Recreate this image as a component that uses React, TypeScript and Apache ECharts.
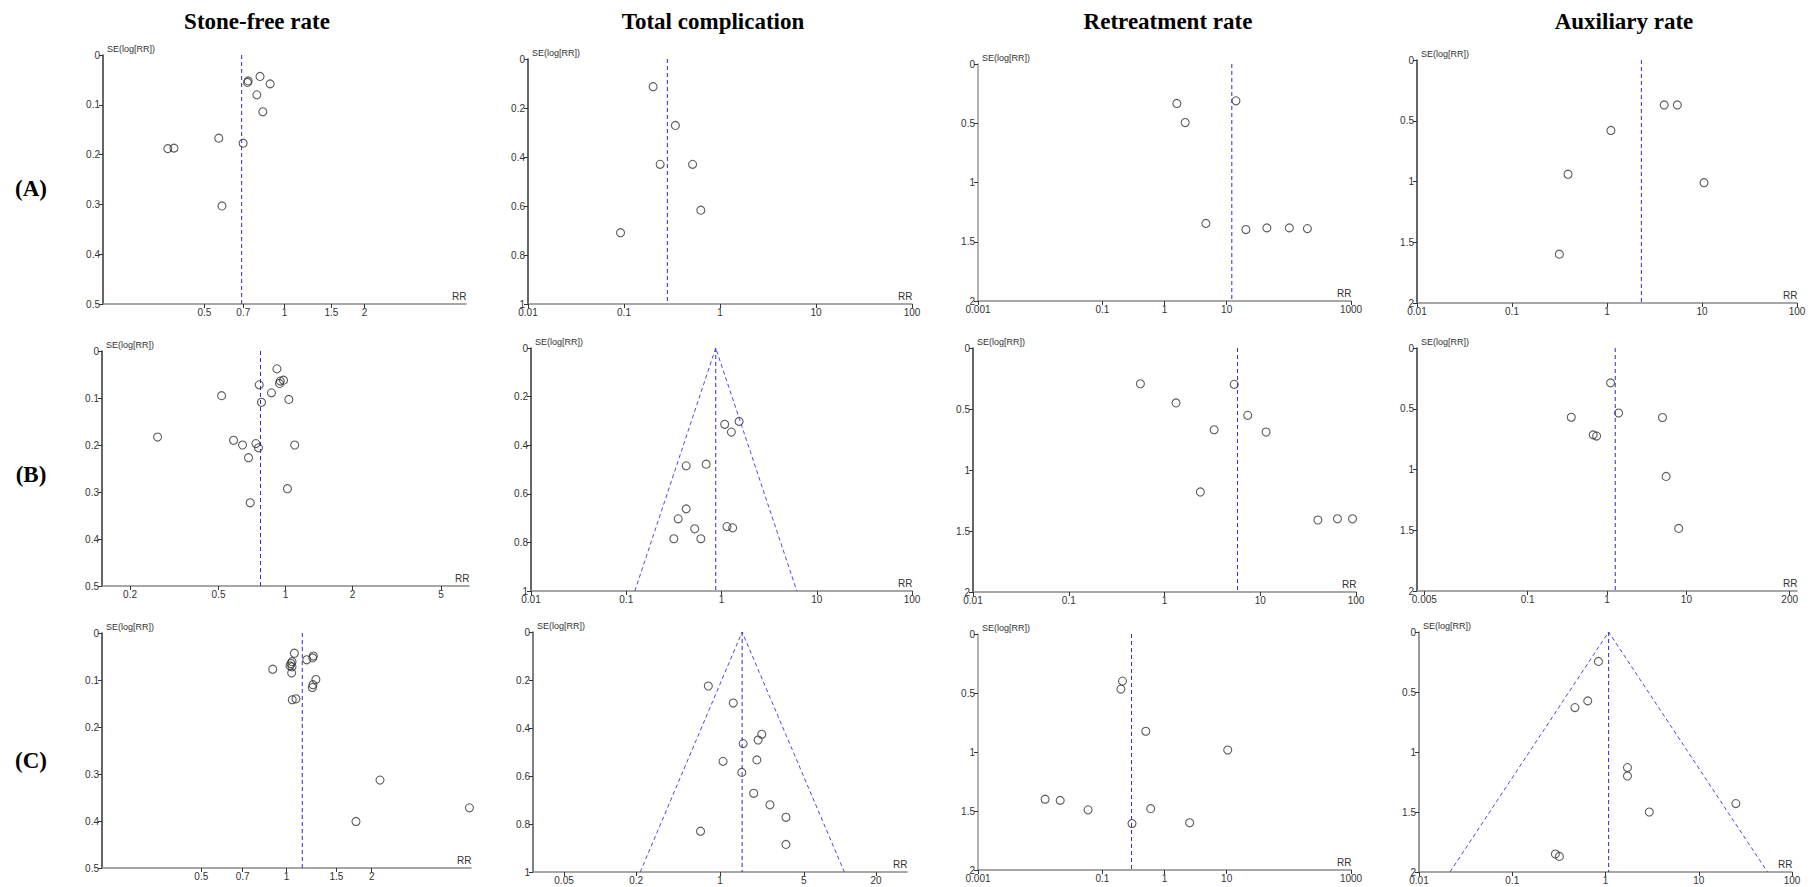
import React, { useEffect, useRef } from "react";
import * as echarts from "echarts";

const colTitles = ["Stone-free rate", "Total complication", "Retreatment rate", "Auxiliary rate"];
const rowLabels = ["(A)", "(B)", "(C)"];

// ---- Row A ----
const a1RR = [0.730, 0.726, 0.809, 0.883, 0.787, 0.829, 0.566, 0.699, 0.364, 0.384, 0.582];
const a1SE = [0.052, 0.055, 0.043, 0.058, 0.080, 0.114, 0.167, 0.177, 0.188, 0.187, 0.303];
const a1Pooled = 0.69;
const a1Ticks = [0.5, 0.7, 1, 1.5, 2];

const a2RR = [0.201, 0.343, 0.238, 0.518, 0.631, 0.092];
const a2SE = [0.113, 0.271, 0.430, 0.430, 0.617, 0.709];
const a2Pooled = 0.283;
const a2Ticks = [0.01, 0.1, 1, 10, 100];

const a3RR = [1.58, 2.15, 14.1, 4.63, 20.4, 44.3, 102, 199];
const a3SE = [0.333, 0.494, 0.311, 1.345, 1.397, 1.383, 1.383, 1.389];
const a3Pooled = 12.1;
const a3Ticks = [0.001, 0.1, 1, 10, 1000];

const a4RR = [4.0, 5.5, 1.1, 0.389, 10.5, 0.315];
const a4SE = [0.37, 0.37, 0.58, 0.94, 1.01, 1.598];
const a4Pooled = 2.3;
const a4Ticks = [0.01, 0.1, 1, 10, 100];

// ---- Row B ----
const b1RR = [0.915, 0.947, 0.98, 0.94, 0.762, 0.865, 0.516, 1.035, 0.78, 0.266, 0.584, 0.641, 0.736, 0.756, 1.10, 0.682, 1.02, 0.694];
const b1SE = [0.038, 0.064, 0.062, 0.069, 0.072, 0.089, 0.095, 0.103, 0.109, 0.183, 0.190, 0.200, 0.197, 0.206, 0.200, 0.227, 0.293, 0.323];
const b1Pooled = 0.772;
const b1Ticks = [0.2, 0.5, 1, 2, 5];

const b2RR = [1.08, 1.53, 1.27, 0.426, 0.69, 0.426, 0.351, 0.316, 0.607, 0.523, 1.14, 1.31];
const b2SE = [0.314, 0.302, 0.346, 0.485, 0.478, 0.662, 0.703, 0.785, 0.785, 0.744, 0.735, 0.74];
const b2Pooled = 0.87;
const b2Funnel = [0.123, 6.18];
const b2Ticks = [0.01, 0.1, 1, 10, 100];

const b3RR = [0.56, 1.32, 5.35, 7.4, 3.3, 11.5, 2.37, 40, 64, 92];
const b3SE = [0.293, 0.45, 0.298, 0.552, 0.67, 0.689, 1.18, 1.41, 1.40, 1.40];
const b3Pooled = 5.78;
const b3Ticks = [0.01, 0.1, 1, 10, 100];

const b4RR = [1.11, 0.355, 1.40, 0.67, 0.74, 5.0, 5.55, 8.0];
const b4SE = [0.287, 0.57, 0.535, 0.715, 0.725, 0.572, 1.057, 1.485];
const b4Pooled = 1.27;
const b4Ticks = [0.005, 0.1, 1, 10, 200];

// ---- Row C ----
const c1RR = [1.066, 1.244, 1.238, 1.179, 1.046, 1.037, 1.029, 1.046, 0.894, 1.043, 1.27, 1.24, 1.234, 1.048, 1.08, 2.14, 1.76, 4.43];
const c1SE = [0.043, 0.049, 0.053, 0.057, 0.061, 0.065, 0.070, 0.072, 0.077, 0.085, 0.099, 0.110, 0.116, 0.142, 0.140, 0.313, 0.401, 0.372];
const c1Pooled = 1.137;
const c1Ticks = [0.5, 0.7, 1, 1.5, 2];

const c2RR = [0.799, 1.29, 2.23, 2.08, 1.56, 1.06, 2.03, 1.52, 1.91, 2.61, 3.55, 3.55, 0.688];
const c2SE = [0.225, 0.296, 0.426, 0.45, 0.465, 0.539, 0.533, 0.585, 0.672, 0.72, 0.772, 0.885, 0.83];
const c2Pooled = 1.53;
const c2Funnel = [0.216, 10.9];
const c2Ticks = [0.05, 0.2, 1, 5, 20];

const c3RR = [0.211, 0.199, 0.5, 10.4, 0.012, 0.021, 0.059, 0.6, 0.30, 2.54];
const c3SE = [0.399, 0.467, 0.824, 0.983, 1.40, 1.41, 1.49, 1.48, 1.606, 1.60];
const c3Pooled = 0.295;
const c3Ticks = [0.001, 0.1, 1, 10, 1000];

const c4RR = [0.84, 0.645, 0.47, 1.72, 1.72, 2.95, 25, 0.29, 0.32];
const c4SE = [0.245, 0.574, 0.63, 1.13, 1.2, 1.5, 1.43, 1.85, 1.87];
const c4Pooled = 1.08;
const c4Funnel = [0.0215, 54.6];
const c4Ticks = [0.01, 0.1, 1, 10, 100];

type Panel = {
  rr: number[]; se: number[]; pooled: number; ticks: number[];
  seMax: number; seStep: number; funnel?: number[];
};

const panels: Panel[] = [
  { rr: a1RR, se: a1SE, pooled: a1Pooled, ticks: a1Ticks, seMax: 0.5, seStep: 0.1 },
  { rr: a2RR, se: a2SE, pooled: a2Pooled, ticks: a2Ticks, seMax: 1, seStep: 0.2 },
  { rr: a3RR, se: a3SE, pooled: a3Pooled, ticks: a3Ticks, seMax: 2, seStep: 0.5 },
  { rr: a4RR, se: a4SE, pooled: a4Pooled, ticks: a4Ticks, seMax: 2, seStep: 0.5 },
  { rr: b1RR, se: b1SE, pooled: b1Pooled, ticks: b1Ticks, seMax: 0.5, seStep: 0.1 },
  { rr: b2RR, se: b2SE, pooled: b2Pooled, ticks: b2Ticks, seMax: 1, seStep: 0.2, funnel: b2Funnel },
  { rr: b3RR, se: b3SE, pooled: b3Pooled, ticks: b3Ticks, seMax: 2, seStep: 0.5 },
  { rr: b4RR, se: b4SE, pooled: b4Pooled, ticks: b4Ticks, seMax: 2, seStep: 0.5 },
  { rr: c1RR, se: c1SE, pooled: c1Pooled, ticks: c1Ticks, seMax: 0.5, seStep: 0.1 },
  { rr: c2RR, se: c2SE, pooled: c2Pooled, ticks: c2Ticks, seMax: 1, seStep: 0.2, funnel: c2Funnel },
  { rr: c3RR, se: c3SE, pooled: c3Pooled, ticks: c3Ticks, seMax: 2, seStep: 0.5 },
  { rr: c4RR, se: c4SE, pooled: c4Pooled, ticks: c4Ticks, seMax: 2, seStep: 0.5, funnel: c4Funnel },
];

// layout: [left, right, top, bottom, log10 half range]
const layout: number[][] = [
  [103, 466, 55, 304, 0.6825],
  [528, 912, 59, 304, 2],
  [978, 1351, 64, 301, 3],
  [1417, 1797, 60, 303, 2],
  [102, 469, 351, 586, 0.825],
  [531, 912, 348, 591, 2],
  [973, 1356, 348, 592, 2],
  [1417, 1797, 348, 591, 2.393],
  [102, 471, 633, 868, 0.652],
  [533, 907, 632, 872, 1.56],
  [978, 1351, 634, 870, 3],
  [1419, 1792, 632, 872, 2],
];
const yAxisColors = ["#333", "#333", "#9a9a9a", "#333", "#333", "#333", "#333", "#333", "#333", "#555", "#9a9a9a", "#777"];

const titleX = [257, 713, 1168, 1624];
const rowY = [188, 474, 760];

const lg = (v: number) => Math.log10(v);

function buildOption() {
  const grid: any[] = [];
  const xAxis: any[] = [];
  const yAxis: any[] = [];
  const series: any[] = [];
  const graphic: any[] = [];
  const axisFont = "Liberation Sans, Arial, sans-serif";

  panels.forEach((p, i) => {
    const [L, R, T, B, hr] = layout[i];
    grid.push({ left: L, top: T, width: R - L, height: B - T, containLabel: false });
    const tv = p.ticks.map(lg);
    xAxis.push({
      type: "value", gridIndex: i, min: -hr, max: hr,
      axisLine: { show: true, onZero: false, lineStyle: { color: "#8a8a8a", width: 1.5 } },
      axisTick: { show: true, customValues: tv, length: 4, lineStyle: { color: "#333", width: 1 } },
      axisLabel: {
        customValues: tv, fontSize: 10, color: "#333", margin: 3, fontFamily: axisFont,
        formatter: (v: number) => {
          let best = p.ticks[0];
          let bd = 1e9;
          p.ticks.forEach((t) => { const d = Math.abs(lg(t) - v); if (d < bd) { bd = d; best = t; } });
          return String(best);
        },
      },
      splitLine: { show: false },
    });
    yAxis.push({
      type: "value", gridIndex: i, inverse: true, min: 0, max: p.seMax, interval: p.seStep,
      axisLine: { show: true, onZero: false, lineStyle: { color: yAxisColors[i], width: 1.5 } },
      axisTick: { show: true, length: 4, lineStyle: { color: "#333" } },
      axisLabel: { fontSize: 10, color: "#333", margin: 3, fontFamily: axisFont },
      splitLine: { show: false },
    });
    const lp = lg(p.pooled);
    if (p.funnel) {
      series.push({
        type: "line", xAxisIndex: i, yAxisIndex: i, symbol: "none", silent: true,
        data: [[lg(p.funnel[0]), p.seMax], [lp, 0], [lg(p.funnel[1]), p.seMax]],
        lineStyle: { color: "#4a4ae0", width: 1, type: [4, 3] },
      });
    }
    series.push({
      type: "line", xAxisIndex: i, yAxisIndex: i, symbol: "none", silent: true,
      data: [[lp, 0], [lp, p.seMax]],
      lineStyle: { color: "#2b2bd6", width: 1, type: [4, 3] },
    });
    series.push({
      type: "scatter", xAxisIndex: i, yAxisIndex: i, symbol: "circle", symbolSize: 8,
      data: p.rr.map((r, k) => [lg(r), p.se[k]]),
      itemStyle: { color: "rgba(0,0,0,0)", borderColor: "#333", borderWidth: 1.1 },
    });
    graphic.push({
      type: "text", left: L + 4, top: T - 11,
      style: { text: "SE(log[RR])", fontSize: 9, fill: "#333", fontFamily: axisFont },
    });
    graphic.push({
      type: "text", left: R - 14, top: B - 13,
      style: { text: "RR", fontSize: 10, fill: "#333", fontFamily: axisFont },
    });
  });

  colTitles.forEach((t, c) => {
    graphic.push({
      type: "text", x: titleX[c], y: 21,
      style: {
        text: t, fontSize: 23, fontWeight: "bold", fill: "#000",
        fontFamily: "Liberation Serif, DejaVu Serif, serif", align: "center", verticalAlign: "middle",
      },
    });
  });
  rowLabels.forEach((t, r) => {
    graphic.push({
      type: "text", x: 31, y: rowY[r],
      style: {
        text: t, fontSize: 23, fontWeight: "bold", fill: "#000",
        fontFamily: "Liberation Serif, DejaVu Serif, serif", align: "center", verticalAlign: "middle",
      },
    });
  });

  return { animation: false, backgroundColor: "#fff", grid, xAxis, yAxis, series, graphic };
}

export default function App() {
  const ref = useRef<HTMLDivElement>(null);
  useEffect(() => {
    if (!ref.current) return;
    const chart = echarts.init(ref.current, undefined, { renderer: "svg" });
    chart.setOption(buildOption() as any);
    return () => chart.dispose();
  }, []);
  return (
    <div
      ref={ref}
      style={{ position: "absolute", left: 0, top: 0, width: 1813, height: 887, background: "#fff" }}
    />
  );
}
